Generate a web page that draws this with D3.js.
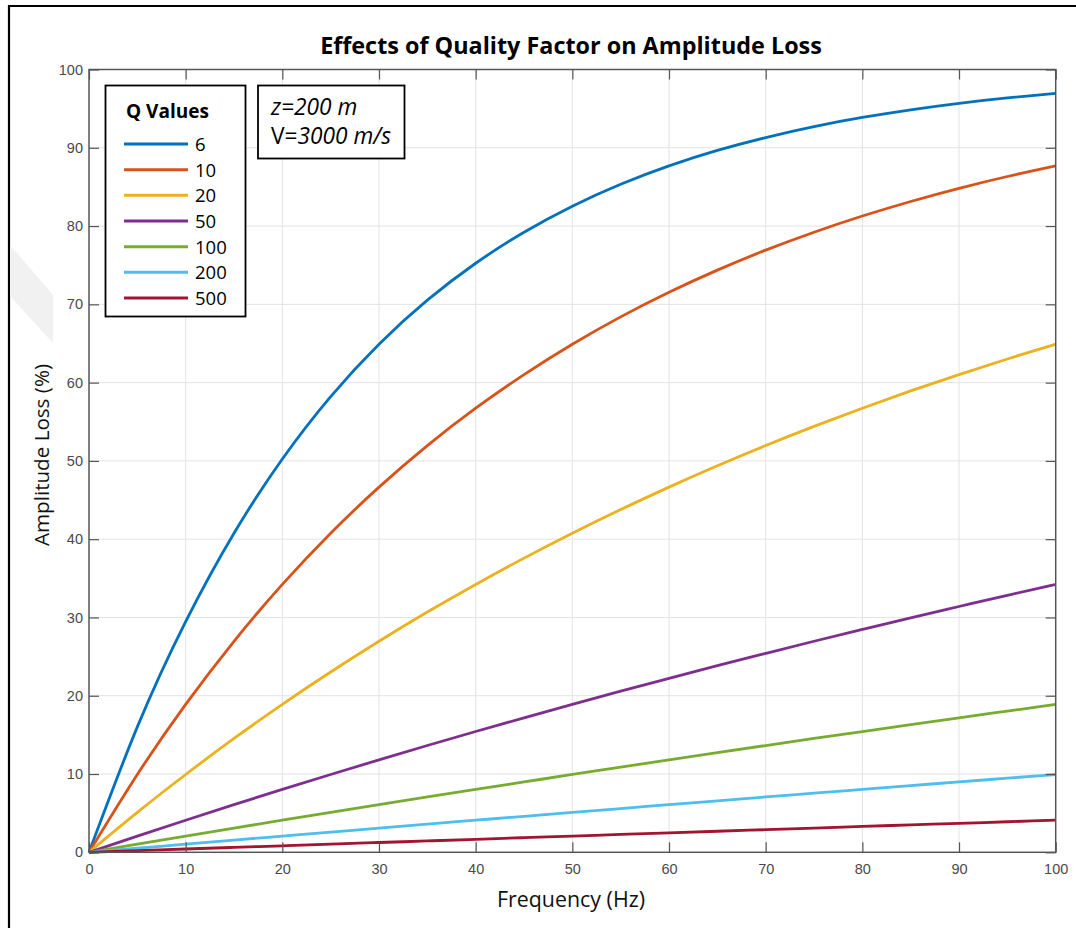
<!DOCTYPE html>
<html>
<head>
<meta charset="utf-8">
<script src="https://cdn.jsdelivr.net/npm/d3@7"></script>
<style>
  html, body { margin: 0; padding: 0; background: #fff; }
  svg { display: block; }
</style>
</head>
<body>
<svg id="chart" width="1076" height="928"></svg>
<script>
// ---------------- DATA ----------------
const frequency = [0,5,10,15,20,25,30,35,40,45,50,55,60,65,70,75,80,85,90,95,100];
const qValues = ["6","10","20","50","100","200","500"];
const lossQ6   = [0,16.02,29.47,40.76,50.25,58.22,64.91,70.53,75.25,79.21,82.54,85.34,87.69,89.66,91.31,92.71,93.87,94.85,95.68,96.37,96.95];
const lossQ10  = [0,9.94,18.90,26.96,34.22,40.76,46.65,51.96,56.73,61.03,64.91,68.40,71.54,74.37,76.92,79.21,81.28,83.14,84.82,86.33,87.69];
const lossQ20  = [0,5.10,9.94,14.54,18.90,23.03,26.96,30.69,34.22,37.58,40.76,43.78,46.65,49.37,51.96,54.41,56.73,58.94,61.03,63.02,64.91];
const lossQ50  = [0,2.07,4.10,6.09,8.04,9.94,11.81,13.64,15.43,17.18,18.90,20.58,22.22,23.84,25.41,26.96,28.47,29.96,31.40,32.83,34.21];
const lossQ100 = [0,1.04,2.07,3.09,4.10,5.10,6.09,7.07,8.04,8.99,9.94,10.88,11.81,12.73,13.64,14.54,15.43,16.31,17.18,18.04,18.90];
const lossQ200 = [0,0.52,1.04,1.56,2.07,2.58,3.09,3.60,4.10,4.60,5.10,5.59,6.09,6.58,7.07,7.55,8.04,8.52,8.99,9.47,9.94];
const lossQ500 = [0,0.21,0.42,0.63,0.83,1.04,1.25,1.45,1.66,1.87,2.07,2.28,2.48,2.69,2.89,3.09,3.30,3.50,3.70,3.90,4.10];
const xTicks = [0,10,20,30,40,50,60,70,80,90,100];
const yTicks = [0,10,20,30,40,50,60,70,80,90,100];
const titleText = "Effects of Quality Factor on Amplitude Loss";
const xLabelText = "Frequency (Hz)";
const yLabelText = "Amplitude Loss (%)";
const legendTitle = "Q Values";

const seriesValues = [lossQ6, lossQ10, lossQ20, lossQ50, lossQ100, lossQ200, lossQ500];
const colors = ["#0072BD","#D95319","#EDB120","#7E2F8E","#77AC30","#4DBEEE","#A2142F"];

// ---------------- LAYOUT ----------------
const svg = d3.select("#chart");
const L = 89, R = 1055.7, T = 69.5, B = 852.3;

const x = d3.scaleLinear().domain([0,100]).range([L, R]);
const y = d3.scaleLinear().domain([0,100]).range([B, T]);

function fit(sel, w) {
  const n = sel.node();
  const fs = parseFloat(sel.attr("font-size"));
  const cw = n.getComputedTextLength();
  sel.attr("font-size", (fs * w / cw).toFixed(2));
}

// outer frame (top and left edges)
svg.append("line").attr("x1",9).attr("x2",1076).attr("y1",6).attr("y2",6)
  .attr("stroke","#000").attr("stroke-width",2.2);
svg.append("line").attr("x1",9).attr("x2",9).attr("y1",5).attr("y2",928)
  .attr("stroke","#000").attr("stroke-width",2.2);

// faint watermark band
svg.append("path")
  .attr("d","M10,245 L53,295 L53,343 L10,296 Z")
  .attr("fill","#f1f1f1");

// grid
const grid = svg.append("g");
grid.selectAll("line.gx").data(xTicks.slice(1,-1)).join("line")
  .attr("x1", d=>x(d)).attr("x2", d=>x(d)).attr("y1", T).attr("y2", B)
  .attr("stroke","#e3e3e3").attr("stroke-width",1);
grid.selectAll("line.gy").data(yTicks.slice(1,-1)).join("line")
  .attr("x1", L).attr("x2", R).attr("y1", d=>y(d)).attr("y2", d=>y(d))
  .attr("stroke","#e3e3e3").attr("stroke-width",1);

// series lines
const line = d3.line()
  .x((d,i)=>x(frequency[i]))
  .y(d=>y(d))
  .curve(d3.curveNatural);
svg.append("g").selectAll("path").data(seriesValues).join("path")
  .attr("d", d=>line(d))
  .attr("fill","none")
  .attr("stroke",(d,i)=>colors[i])
  .attr("stroke-width",2.8);

// axes (MATLAB style: inward ticks on all sides)
const tl = 10;
const axB = d3.axisBottom(x).tickValues(xTicks).tickSizeInner(-tl).tickSizeOuter(0).tickPadding(tl+6);
const axT = d3.axisTop(x).tickValues(xTicks).tickSizeInner(-tl).tickSizeOuter(0).tickFormat("");
const axLft = d3.axisLeft(y).tickValues(yTicks).tickSizeInner(-tl).tickSizeOuter(0).tickPadding(tl+6);
const axRt = d3.axisRight(y).tickValues(yTicks).tickSizeInner(-tl).tickSizeOuter(0).tickFormat("");

function styleAxis(g) {
  g.select(".domain").remove();
  g.selectAll(".tick line").attr("stroke","#555").attr("stroke-width",1.2);
  g.selectAll(".tick text").attr("fill","#4a4a4a").attr("font-family","'Liberation Sans', Arial, sans-serif").attr("font-size",14.5);
}
svg.append("g").attr("transform",`translate(0,${B})`).call(axB).call(styleAxis)
  .selectAll(".tick text").attr("dy","0.71em").attr("y", 11);
svg.append("g").attr("transform",`translate(0,${T})`).call(axT).call(styleAxis);
svg.append("g").attr("transform",`translate(${L},0)`).call(axLft).call(styleAxis)
  .selectAll(".tick text").attr("x",-6);
svg.append("g").attr("transform",`translate(${R},0)`).call(axRt).call(styleAxis);
// axis box
svg.append("rect").attr("x",L).attr("y",T).attr("width",R-L).attr("height",B-T)
  .attr("fill","none").attr("stroke","#555").attr("stroke-width",1.5);

// title
const title = svg.append("text").attr("x",571).attr("y",54).attr("text-anchor","middle")
  .attr("font-family","'Open Sans', sans-serif").attr("font-weight","bold").attr("font-size",22)
  .attr("fill","#000").text(titleText);
fit(title, 502);

// x label
const xl = svg.append("text").attr("x",571).attr("y",907).attr("text-anchor","middle")
  .attr("font-family","'Open Sans', sans-serif").attr("font-size",19).attr("fill","#111").text(xLabelText);
fit(xl, 148);

// y label
const yl = svg.append("text").attr("transform","translate(49,455) rotate(-90)").attr("text-anchor","middle")
  .attr("font-family","'Open Sans', sans-serif").attr("font-size",19).attr("fill","#111").text(yLabelText);
fit(yl, 182);

// legend
const lg = svg.append("g");
lg.append("rect").attr("x",105.5).attr("y",85.5).attr("width",140).attr("height",231)
  .attr("fill","#fff").attr("stroke","#000").attr("stroke-width",1.8);
const lt = lg.append("text").attr("x",126).attr("y",118).attr("font-family","'Open Sans', sans-serif")
  .attr("font-weight","bold").attr("font-size",17).attr("fill","#000").text(legendTitle);
fit(lt, 83);
const ly = d3.scalePoint().domain(qValues).range([144, 298]);
const items = lg.selectAll("g.item").data(qValues).join("g").attr("class","item");
items.append("line").attr("x1",124).attr("x2",188).attr("y1",d=>ly(d)).attr("y2",d=>ly(d))
  .attr("stroke",(d,i)=>colors[i]).attr("stroke-width",3);
items.append("text").attr("x",195).attr("y",d=>ly(d)+7)
  .attr("font-family","'Open Sans', sans-serif").attr("font-size",18.5).attr("fill","#000").text(d=>d);

// annotation box
const an = svg.append("g");
an.append("rect").attr("x",258).attr("y",85.5).attr("width",146.5).attr("height",73)
  .attr("fill","#fff").attr("stroke","#000").attr("stroke-width",1.8);
const a1 = an.append("text").attr("x",271).attr("y",115).attr("font-family","'Open Sans', sans-serif")
  .attr("font-size",20).attr("fill","#000");
a1.append("tspan").attr("font-style","italic").text("z=200 m");
const a2 = an.append("text").attr("x",271).attr("y",144).attr("font-family","'Open Sans', sans-serif")
  .attr("font-size",20).attr("fill","#000");
a2.append("tspan").text("V=");
a2.append("tspan").attr("font-style","italic").text("3000 m/s");
fit(a2, 120);
a1.attr("font-size", a2.attr("font-size"));
</script>
</body>
</html>
